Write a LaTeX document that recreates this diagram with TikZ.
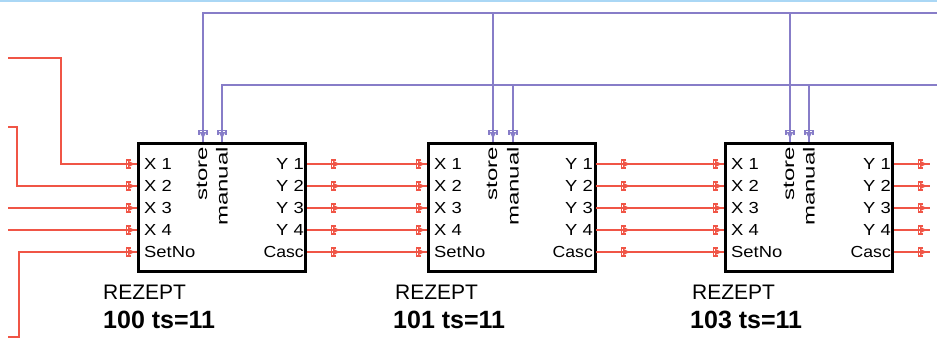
\documentclass[tikz,border=0pt]{standalone}
\usepackage{fontspec}
\setmainfont{Liberation Sans}
\definecolor{wred}{RGB}{240,85,70}
\definecolor{wblue}{RGB}{135,125,200}
\definecolor{wtop}{RGB}{170,215,245}
\tikzset{
  redline/.style={draw=wred,line width=2pt},
  blueline/.style={draw=wblue,line width=2pt},
  fb/.style={draw=black,line width=3pt,minimum width=167pt,minimum height=128pt,inner sep=0pt},
  pinl/.style={anchor=west,inner sep=0pt,font=\fontsize{16}{16}\selectfont},
  pinr/.style={anchor=east,inner sep=0pt,font=\fontsize{16}{16}\selectfont},
  rotl/.style={anchor=east,rotate=90,inner sep=0pt,font=\fontsize{16}{16}\selectfont},
  typel/.style={anchor=west,inner sep=0pt,font=\fontsize{21}{21}\selectfont},
  numl/.style={anchor=west,inner sep=0pt,font=\fontsize{25}{25}\selectfont\bfseries},
}
\newcommand{\pinmark}[3]{% x,y,colour ; pointing right
  \draw[#3,line width=1.4pt] (#1+0.5,#2-4) -- (#1-3.5,#2-4) -- (#1-3.5,#2+4) -- (#1+0.5,#2+4);
  \fill[#3] (#1-2,#2-3.3) -- (#1+4.5,#2) -- (#1-2,#2+3.3) -- cycle;}
\newcommand{\pinmarkdown}[3]{% pointing down
  \draw[#3,line width=1.4pt] (#1-4,#2+0.5) -- (#1-4,#2-3.5) -- (#1+4,#2-3.5) -- (#1+4,#2+0.5);
  \fill[#3] (#1-3.3,#2-2) -- (#1,#2+4.5) -- (#1+3.3,#2-2) -- cycle;}
\begin{document}
\begin{tikzpicture}[x=1pt,y=-1pt]
\useasboundingbox (0,0) rectangle (937,338);
\fill[white] (0,0) rectangle (937,338);
\draw[wtop,line width=2pt] (0,1) -- (937,1);

% boxes
\node[fb] (b1) at (222,207.5) {};
\node[fb] (b2) at (511.5,207.5) {};
\node[fb] (b3) at (809,207.5) {};

% pin coordinates
\foreach \b/\xl/\xr/\xs/\xm in {b1/137/307/203/222, b2/427/596/493/513, b3/724/894/790/809}{
  \coordinate (\b x1) at (\xl,164);
  \coordinate (\b x2) at (\xl,186);
  \coordinate (\b x3) at (\xl,208);
  \coordinate (\b x4) at (\xl,230);
  \coordinate (\b x5) at (\xl,252);
  \coordinate (\b y1) at (\xr,164);
  \coordinate (\b y2) at (\xr,186);
  \coordinate (\b y3) at (\xr,208);
  \coordinate (\b y4) at (\xr,230);
  \coordinate (\b y5) at (\xr,252);
  \coordinate (\b st) at (\xs,142);
  \coordinate (\b ma) at (\xm,142);
  \node[pinl] at (\xl+7,164) {\scalebox{1.15}[1]{X 1}};
  \node[pinl] at (\xl+7,186) {\scalebox{1.15}[1]{X 2}};
  \node[pinl] at (\xl+7,208) {\scalebox{1.15}[1]{X 3}};
  \node[pinl] at (\xl+7,230) {\scalebox{1.15}[1]{X 4}};
  \node[pinl] at (\xl+7,252) {\scalebox{1.15}[1]{SetNo}};
  \node[pinr] at (\xr-3,164) {\scalebox{1.15}[1]{Y 1}};
  \node[pinr] at (\xr-3,186) {\scalebox{1.15}[1]{Y 2}};
  \node[pinr] at (\xr-3,208) {\scalebox{1.15}[1]{Y 3}};
  \node[pinr] at (\xr-3,230) {\scalebox{1.15}[1]{Y 4}};
  \node[pinr] at (\xr-3,252) {\scalebox{1.1}[1]{Casc}};
  \node[rotl] at (\xs-1,147) {\scalebox{1.5}[1]{store}};
  \node[rotl] at (\xm,147) {\scalebox{1.5}[1]{manual}};
  \foreach \yy in {164,186,208,230,252}{ \pinmark{\xl-7}{\yy}{wred} }
  \pinmarkdown{\xs}{134}{wblue}
  \pinmarkdown{\xm}{134}{wblue}
}

% labels below boxes
\node[typel] (t1) at (103,292) {REZEPT};
\node[numl]  (n1) at (103,320) {100 ts=11};
\node[typel] (t2) at (395,292) {REZEPT};
\node[numl]  (n2) at (393,320) {101 ts=11};
\node[typel] (t3) at (692,292) {REZEPT};
\node[numl]  (n3) at (690,320) {103 ts=11};

% external inputs to box 1
\coordinate (i1) at (8,58);
\coordinate (i2) at (8,127);
\coordinate (i3) at (8,208);
\coordinate (i4) at (8,230);
\coordinate (i5) at (8,337);
\draw[redline] (i1) -- (61,58) -- (61,164) -- (b1x1);
\draw[redline] (i2) -- (17,127) -- (17,186) -- (b1x2);
\draw[redline] (i3) -- (b1x3);
\draw[redline] (i4) -- (b1x4);
\draw[redline] (i5) -- (19,337) -- (19,252) -- (b1x5);

% box to box
\foreach \i in {1,...,5}{
  \draw[redline] (b1y\i) -- (b2x\i);
  \draw[redline] (b2y\i) -- (b3x\i);
}
\foreach \yy in {164,186,208,230,252}{
  \pinmark{335}{\yy}{wred}
  \pinmark{625}{\yy}{wred}
  \pinmark{922}{\yy}{wred}
}
% outputs of box 3
\foreach \i in {1,...,5}{
  \coordinate (o\i) at (930,{142+22*\i});
  \draw[redline] (b3y\i) -- (o\i);
}

% blue buses
\coordinate (s0) at (937,13);
\coordinate (m0) at (937,85);
\draw[blueline] (s0) -- (203,13) -- (b1st);
\draw[blueline] (493,13) -- (b2st);
\draw[blueline] (790,13) -- (b3st);
\draw[blueline] (m0) -- (222,85) -- (b1ma);
\draw[blueline] (513,85) -- (b2ma);
\draw[blueline] (809,85) -- (b3ma);
\end{tikzpicture}
\end{document}
